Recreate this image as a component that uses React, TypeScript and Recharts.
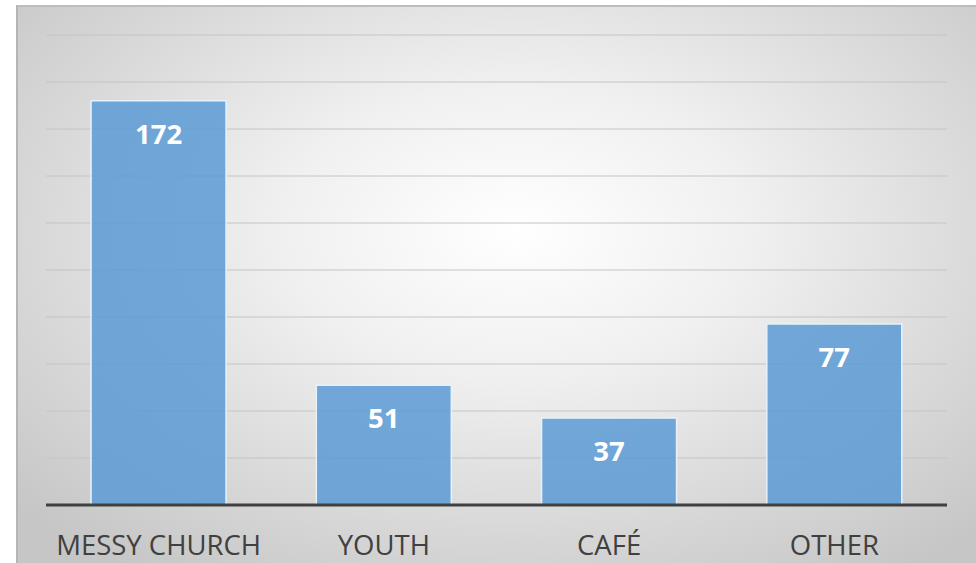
import React from 'react';
import { BarChart, Bar, XAxis, YAxis, CartesianGrid, LabelList } from 'recharts';

const categories = ['MESSY CHURCH', 'YOUTH', 'CAFÉ', 'OTHER'];
const counts = [172, 51, 37, 77];
const yTicks = [0, 20, 40, 60, 80, 100, 120, 140, 160, 180, 200];

const data = categories.map((name, i) => ({ name, count: counts[i] }));

const FONT = '"Open Sans", "Liberation Sans", sans-serif';

const CategoryTick = (props: any) => {
  const { x, y, payload } = props;
  return (
    <text x={x} y={y + 42} textAnchor="middle" fill="#404040" fontSize={27.5} fontFamily={FONT}>
      {payload.value}
    </text>
  );
};

const ValueLabel = (props: any) => {
  const { x, y, width, value } = props;
  return (
    <text x={x + width / 2} y={y + 43} textAnchor="middle" fill="#ffffff" fontSize={27.5} fontWeight="bold" fontFamily={FONT}>
      {value}
    </text>
  );
};

export default function App() {
  return (
    <div style={{ position: 'absolute', left: 0, top: 0, width: 976, height: 563, background: '#ffffff', overflow: 'hidden' }}>
      <div
        style={{
          position: 'absolute',
          left: 16,
          top: 5,
          width: 960,
          height: 558,
          boxSizing: 'border-box',
          borderTop: '2px solid #bdbdbd',
          borderLeft: '2px solid #b5b5b5',
          background: 'radial-gradient(ellipse 70% 75% at 52% 40%, #ffffff 0%, #f0f0f0 35%, #c6c6c6 100%)',
        }}
      />
      <div style={{ position: 'absolute', left: 16, top: 5 }}>
        <BarChart width={960} height={558} data={data} margin={{ top: 30, right: 29, bottom: 0, left: 30 }} barCategoryGap="20%">
          <CartesianGrid vertical={false} stroke="#c4c4c4" strokeWidth={1} />
          <YAxis hide domain={[0, 200]} ticks={yTicks} />
          <XAxis
            dataKey="name"
            height={58}
            axisLine={{ stroke: '#404040', strokeWidth: 3 }}
            tickLine={false}
            tick={<CategoryTick />}
            interval={0}
          />
          <Bar dataKey="count" fill="#5b9bd5" fillOpacity={0.85} stroke="#e8f1fa" strokeWidth={1.5} isAnimationActive={false}>
            <LabelList dataKey="count" content={<ValueLabel />} />
          </Bar>
        </BarChart>
      </div>
    </div>
  );
}
